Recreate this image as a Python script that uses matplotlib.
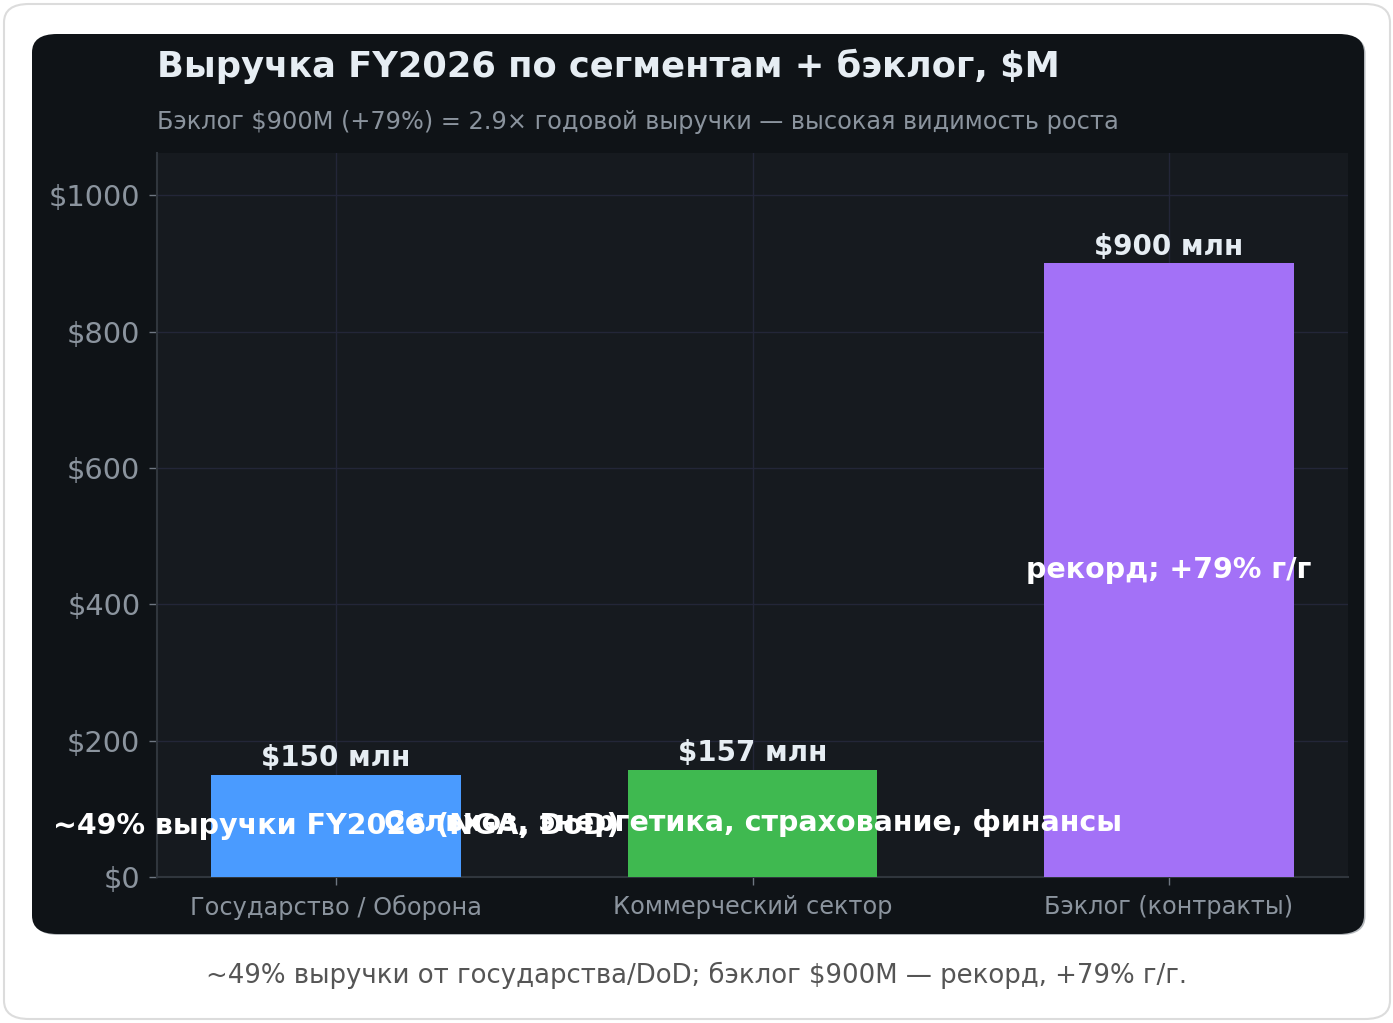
import matplotlib.pyplot as plt
from matplotlib.patches import FancyBboxPatch
import numpy as np

categories = ['Государство / Оборона', 'Коммерческий сектор', 'Бэклог (контракты)']
values = [150, 157, 900]
value_labels = ['$150 млн', '$157 млн', '$900 млн']
inner_labels = ['~49% выручки FY2026 (NGA, DoD)',
                'Сельхоз, энергетика, страхование, финансы',
                'рекорд; +79% г/г']
colors = ['#4a9bff', '#3fb950', '#a371f7']
yticks = [0, 200, 400, 600, 800, 1000]

title = 'Выручка FY2026 по сегментам + бэклог, $M'
subtitle = 'Бэклог $900M (+79%) = 2.9× годовой выручки — высокая видимость роста'
caption = '~49% выручки от государства/DoD; бэклог $900M — рекорд, +79% г/г.'

W, H = 1393, 1023
fig = plt.figure(figsize=(W / 100, H / 100), dpi=100)
fig.patch.set_facecolor('white')

# outer card and dark panel (pixel coords -> figure fractions)
card = FancyBboxPatch((4 / W, 4 / H), 1386 / W, 1015 / H,
                      boxstyle='round,pad=0,rounding_size=0.018',
                      transform=fig.transFigure, facecolor='white',
                      edgecolor='#dcdcdc', linewidth=1.5, zorder=0)
fig.patches.append(card)
shadow = FancyBboxPatch((33.5 / W, (H - 935) / H), 1332 / W, 900 / H,
                        boxstyle='round,pad=0,rounding_size=0.018',
                        transform=fig.transFigure, facecolor='#b4b8bc',
                        edgecolor='none', zorder=0.5)
fig.patches.append(shadow)
panel = FancyBboxPatch((32 / W, (H - 934) / H), 1332 / W, 900 / H,
                       boxstyle='round,pad=0,rounding_size=0.018',
                       transform=fig.transFigure, facecolor='#0f1317',
                       edgecolor='none', zorder=1)
fig.patches.append(panel)

ax = fig.add_axes([157 / W, 1 - 877 / H, (1348 - 157) / W, (877 - 153) / H])
ax.set_zorder(2)
ax.set_facecolor('#161a1f')

x = np.arange(len(categories))
ax.bar(x, values, width=0.6, color=colors, zorder=3)

for i, v in enumerate(values):
    ax.annotate(value_labels[i], (x[i], v), xytext=(0, 2), textcoords='offset points',
                ha='center', va='bottom', fontsize=20, fontweight='bold',
                color='#e6edf3', zorder=5)
    ax.text(x[i], v / 2, inner_labels[i], ha='center', va='center',
            fontsize=20.5, fontweight='bold', color='white', zorder=5)

ax.set_ylim(0, max(values) * 1.18)
ax.set_yticks(yticks)
ax.set_yticklabels([f'${t}' for t in yticks])
ax.set_xticks(x)
ax.set_xticklabels(categories)
ax.tick_params(axis='y', labelsize=20.8, length=6, width=1, pad=6)
ax.tick_params(axis='x', labelsize=17.3, length=6, width=1, pad=7)
for lab in ax.get_yticklabels() + ax.get_xticklabels():
    lab.set_color('#8b949e')
ax.tick_params(axis='both', color='#6e7681')

ax.grid(True, color='#232638', linewidth=1, zorder=0)
ax.set_axisbelow(True)
for s in ['top', 'right']:
    ax.spines[s].set_visible(False)
for s in ['left', 'bottom']:
    ax.spines[s].set_color('#30363d')
    ax.spines[s].set_linewidth(1.5)

fig.text(157 / W, 1 - 66 / H, title, ha='left', va='center', fontsize=25.4,
         fontweight='bold', color='#e6edf3', zorder=3)
fig.text(157 / W, 1 - 122 / H, subtitle, ha='left', va='center', fontsize=17.3,
         color='#8b949e', zorder=3)
fig.text(0.5, 1 - 975 / H, caption, ha='center', va='center', fontsize=18.7,
         color='#555555')

fig.savefig('out.png', dpi=100, facecolor=fig.get_facecolor())
